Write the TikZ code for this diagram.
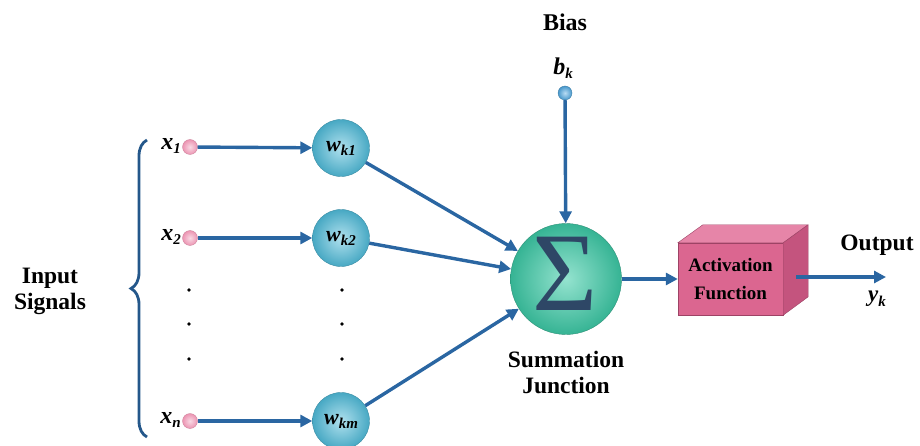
\documentclass[tikz,border=0pt]{standalone}
\usepackage{fontspec}
\setmainfont{Liberation Serif}
\usetikzlibrary{arrows.meta,decorations.pathreplacing,calc}
\definecolor{arrowblue}{HTML}{2A66A2}
\definecolor{wcirc}{HTML}{4FBBD9}
\definecolor{sumc}{HTML}{3DCCA8}
\definecolor{sigmac}{HTML}{2E4766}
\definecolor{pinkf}{HTML}{DB6690}
\definecolor{pinkd}{HTML}{C4547E}
\definecolor{pinkt}{HTML}{E685A8}
\definecolor{dotpink}{HTML}{EC94B2}
\definecolor{biasb}{HTML}{4FA8E2}
\newcommand\mysub[1]{\raisebox{-0.4ex}{\fontsize{15}{15}\selectfont #1}}
\begin{document}
\begin{tikzpicture}[x=1pt,y=-1pt,
  conn/.style={draw=arrowblue, line width=3.4pt, -{Triangle[length=12pt,width=12pt]}},
  weight/.style={circle, minimum size=57pt, inner sep=0pt, shading=radial, inner color=wcirc!45!white, outer color=wcirc!90!black, draw=wcirc!75!black, line width=0.4pt, font=\fontsize{22}{22}\selectfont\bfseries\itshape},
  indot/.style={circle, minimum size=15pt, inner sep=0pt, shading=radial, inner color=dotpink!35!white, outer color=dotpink, draw=dotpink!85!black, line width=0.3pt},
  inlab/.style={anchor=east, inner sep=1pt, font=\fontsize{24}{24}\selectfont\bfseries\itshape},
  bigtext/.style={align=center, font=\fontsize{23.5}{26}\selectfont\bfseries},
  smalldot/.style={circle, fill=black, minimum size=3.6pt, inner sep=0pt},
]
\useasboundingbox (0,0) rectangle (920,446);

% inputs
\node[indot] (x1) at (190,147) {};
\node[indot] (x2) at (190,238) {};
\node[indot] (xn) at (190,421) {};
\node[inlab] (lx1) at (182,146) {x\mysub{1}};
\node[inlab] (lx2) at (182,237) {x\mysub{2}};
\node[inlab] (lxn) at (182,420) {x\mysub{n}};

% weights
\node[weight] (w1) at (341,148) {w\mysub{k1}};
\node[weight] (w2) at (341,238) {w\mysub{k2}};
\node[weight] (wm) at (341,421) {w\mysub{km}};

% vertical dots
\node[smalldot] (d1) at (189,290) {};
\node[smalldot] (d2) at (189,324) {};
\node[smalldot] (d3) at (189,359) {};
\node[smalldot] (e1) at (342,290) {};
\node[smalldot] (e2) at (342,324) {};
\node[smalldot] (e3) at (342,359) {};

% brace
\coordinate (bbot) at (147,437);
\coordinate (btop) at (147,140);
\draw[draw=arrowblue!85!black, line width=2.8pt, decorate, decoration={brace, amplitude=16pt}] (bbot) -- (btop);
\node[bigtext] (insig) at (50,291) {Input\\Signals};

% summation
\node[circle, minimum size=111pt, inner sep=0pt, shading=radial, inner color=sumc!55!white, outer color=sumc!88!black, draw=sumc!70!black, line width=0.4pt] (sum) at (566,279) {};
\node[text=sigmac, font=\fontsize{112}{112}\selectfont, inner sep=0pt] (sigma) at (565,274) {Σ};
\node[bigtext] (sumlab) at (566,372) {Summation\\Junction};

% bias
\node[font=\fontsize{24}{24}\selectfont\bfseries] (bias) at (565,22) {Bias};
\node[font=\fontsize{24}{24}\selectfont\bfseries\itshape] (bk) at (563,68) {b\mysub{k}};
\node[circle, minimum size=14pt, inner sep=0pt, shading=radial, inner color=biasb!40!white, outer color=biasb!90!black, draw=biasb!70!black, line width=0.3pt] (bdot) at (565,93) {};

% activation box
\node[rectangle, minimum width=105pt, minimum height=72pt, fill=pinkf, draw=pinkd!80!black, line width=0.4pt, align=center, font=\fontsize{19}{28}\selectfont\bfseries] (box) at (730.5,279) {Activation\\Function};
\draw[fill=pinkt, draw=pinkd!80!black, line width=0.4pt] (box.north west) -- ++(25,-18) -- ++(105,0) -- (box.north east) -- cycle;
\draw[fill=pinkd, draw=pinkd!80!black, line width=0.4pt] (box.north east) -- ++(25,-18) -- ++(0,72) -- (box.south east) -- cycle;

% output
\coordinate (ostart) at ($(box.east)+(13,-2)$);
\coordinate (oend) at (886,277);
\node[font=\fontsize{23.5}{23.5}\selectfont\bfseries] (outlab) at (877,245) {Output};
\node[font=\fontsize{23}{23}\selectfont\bfseries\itshape] (yk) at (877,299) {y\mysub{k}};

% connectors
\draw[conn] (x1) -- (w1);
\draw[conn] (x2) -- (w2);
\draw[conn] (xn) -- (wm);
\draw[conn] (w1) -- (sum);
\draw[conn] (w2) -- (sum);
\draw[conn] (wm) -- (sum);
\draw[conn] (bdot) -- (sum);
\draw[conn] (sum.east) -- (box.west);
\draw[conn] (ostart) -- (oend);
\end{tikzpicture}
\end{document}
